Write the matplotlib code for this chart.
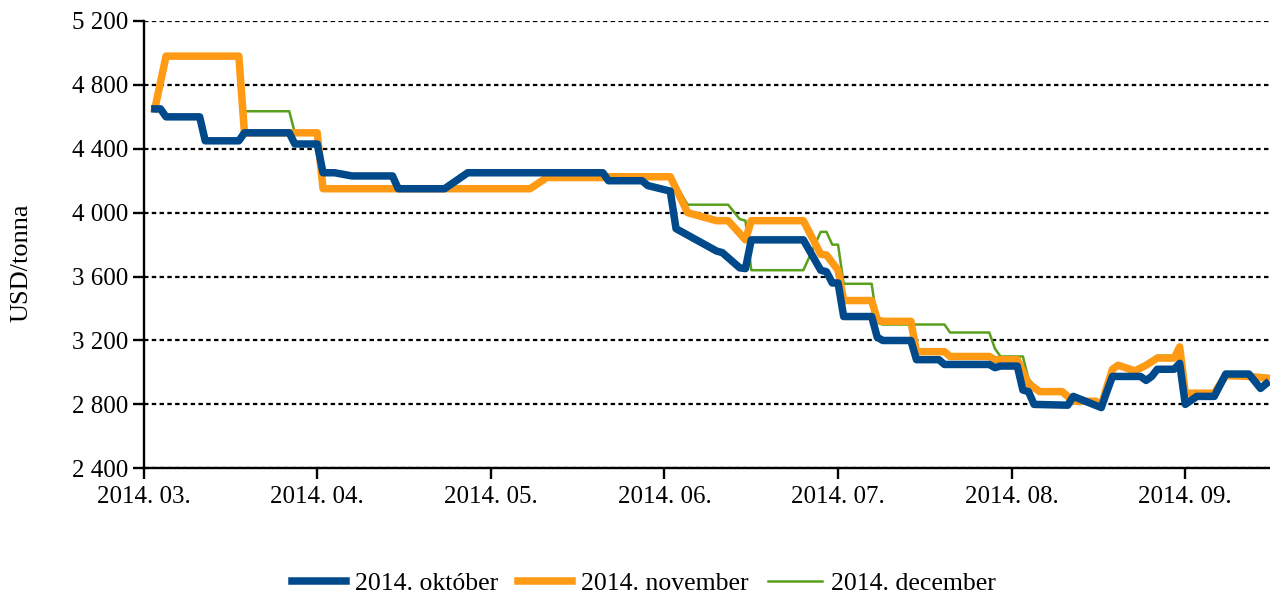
import matplotlib
matplotlib.use("Agg")
import matplotlib.pyplot as plt
import pandas as pd

plt.rcParams["font.family"] = ["Liberation Serif", "DejaVu Serif"]

# Futures price quotes (USD/tonna) for three delivery months
okt_dates = ["2014-03-03", "2014-03-04", "2014-03-05", "2014-03-11", "2014-03-12",
             "2014-03-18", "2014-03-19", "2014-03-27", "2014-03-28", "2014-04-01",
             "2014-04-02", "2014-04-04", "2014-04-07", "2014-04-14", "2014-04-15",
             "2014-04-23", "2014-04-27", "2014-05-21", "2014-05-22", "2014-05-28",
             "2014-05-29", "2014-06-02", "2014-06-03", "2014-06-10", "2014-06-11",
             "2014-06-14", "2014-06-15", "2014-06-16", "2014-06-25", "2014-06-28",
             "2014-06-29", "2014-06-30", "2014-07-01", "2014-07-02", "2014-07-07",
             "2014-07-08", "2014-07-09", "2014-07-14", "2014-07-15", "2014-07-19",
             "2014-07-20", "2014-07-28", "2014-07-29", "2014-07-30", "2014-08-02",
             "2014-08-03", "2014-08-04", "2014-08-05", "2014-08-11", "2014-08-12",
             "2014-08-17", "2014-08-18", "2014-08-19", "2014-08-24", "2014-08-25",
             "2014-08-26", "2014-08-27", "2014-08-30", "2014-08-31", "2014-09-01",
             "2014-09-03", "2014-09-06", "2014-09-08", "2014-09-12", "2014-09-14",
             "2014-09-15"]
okt_values = [4650, 4650, 4600, 4600, 4450,
              4450, 4500, 4500, 4430, 4430,
              4250, 4250, 4230, 4230, 4150,
              4150, 4250, 4250, 4200, 4200,
              4170, 4135, 3900, 3760, 3750,
              3655, 3650, 3830, 3830, 3640,
              3630, 3560, 3560, 3350, 3350,
              3220, 3200, 3200, 3080, 3080,
              3050, 3050, 3030, 3040, 3040,
              2890, 2880, 2800, 2795, 2850,
              2780, 2880, 2975, 2975, 2950,
              2975, 3020, 3020, 3057, 2800,
              2850, 2850, 2990, 2990, 2900,
              2930]

nov_dates = ["2014-03-03", "2014-03-05", "2014-03-18", "2014-03-19", "2014-04-01",
             "2014-04-02", "2014-05-08", "2014-05-11", "2014-05-21", "2014-05-22",
             "2014-06-02", "2014-06-05", "2014-06-10", "2014-06-12", "2014-06-15",
             "2014-06-16", "2014-06-25", "2014-06-28", "2014-06-29", "2014-07-01",
             "2014-07-02", "2014-07-07", "2014-07-08", "2014-07-09", "2014-07-14",
             "2014-07-15", "2014-07-20", "2014-07-21", "2014-07-28", "2014-07-29",
             "2014-08-02", "2014-08-04", "2014-08-06", "2014-08-10", "2014-08-12",
             "2014-08-16", "2014-08-17", "2014-08-18", "2014-08-19", "2014-08-20",
             "2014-08-23", "2014-08-25", "2014-08-27", "2014-08-30", "2014-08-31",
             "2014-09-01", "2014-09-06", "2014-09-08", "2014-09-12", "2014-09-15"]
nov_values = [4650, 4980, 4980, 4500, 4500,
              4150, 4150, 4220, 4220, 4225,
              4225, 4000, 3950, 3950, 3830,
              3950, 3950, 3740, 3735, 3640,
              3450, 3450, 3330, 3320, 3320,
              3130, 3130, 3100, 3100, 3080,
              3080, 2930, 2880, 2880, 2820,
              2820, 2790, 2910, 3020, 3045,
              3010, 3045, 3090, 3090, 3160,
              2870, 2870, 2980, 2975, 2965]

dec_dates = ["2014-03-03", "2014-03-05", "2014-03-18", "2014-03-19", "2014-03-27",
             "2014-03-28", "2014-04-01", "2014-04-02", "2014-05-08", "2014-05-11",
             "2014-05-21", "2014-05-22", "2014-06-02", "2014-06-03", "2014-06-05",
             "2014-06-12", "2014-06-14", "2014-06-15", "2014-06-16", "2014-06-25",
             "2014-06-28", "2014-06-29", "2014-06-30", "2014-07-01", "2014-07-02",
             "2014-07-07", "2014-07-08", "2014-07-09", "2014-07-20", "2014-07-21",
             "2014-07-28", "2014-07-29", "2014-07-30", "2014-08-03", "2014-08-04",
             "2014-08-05", "2014-08-06", "2014-08-10", "2014-08-12", "2014-08-16",
             "2014-08-17", "2014-08-18", "2014-08-19", "2014-08-20", "2014-08-23",
             "2014-08-25", "2014-08-27", "2014-08-30", "2014-08-31", "2014-09-01",
             "2014-09-06", "2014-09-08", "2014-09-12", "2014-09-15"]
dec_values = [4650, 4980, 4980, 4635, 4635,
              4500, 4500, 4150, 4150, 4220,
              4220, 4225, 4225, 4175, 4050,
              4050, 3960, 3950, 3640, 3640,
              3880, 3880, 3800, 3800, 3555,
              3555, 3310, 3300, 3300, 3250,
              3250, 3150, 3100, 3100, 2960,
              2920, 2880, 2880, 2820, 2820,
              2790, 2910, 3030, 3055, 3020,
              3050, 3105, 3105, 3160, 2870,
              2870, 2985, 2980, 2965]

series_labels = ["2014. október", "2014. november", "2014. december"]
month_labels = ["2014. 03.", "2014. 04.", "2014. 05.", "2014. 06.",
                "2014. 07.", "2014. 08.", "2014. 09."]
y_ticks = [2400, 2800, 3200, 3600, 4000, 4400, 4800, 5200]


def month_position(dates):
    """Each calendar month gets the same width on the axis."""
    d = pd.to_datetime(pd.Series(dates))
    return ((d.dt.year - 2014) * 12 + d.dt.month - 3
            + (d.dt.day - 1) / d.dt.days_in_month).to_numpy()


fig = plt.figure(figsize=(12.7, 5.98), dpi=100)
ax = fig.add_axes([0.1131, 0.2169, 0.8869, 0.748])

ax.plot(month_position(dec_dates), dec_values, color="#5aa01e", lw=1.8,
        zorder=3, label=series_labels[2], solid_joinstyle="round")
ax.plot(month_position(nov_dates), nov_values, color="#ff9a14", lw=5.4,
        zorder=4, label=series_labels[1], solid_joinstyle="round")
ax.plot(month_position(okt_dates), okt_values, color="#004a8c", lw=5.4,
        zorder=5, label=series_labels[0], solid_joinstyle="round")

ax.set_ylim(y_ticks[0], y_ticks[-1])
ax.set_xlim(0, 6.488)
ax.set_yticks(y_ticks)
ax.set_yticklabels([f"{v:,}".replace(",", " ") for v in y_ticks])
ax.set_xticks(range(len(month_labels)))
ax.set_xticklabels(month_labels)

for v in y_ticks:
    ax.axhline(v, color="black", lw=1.6, ls=(0, (2.0, 1.5)), zorder=1)

for side in ("top", "right"):
    ax.spines[side].set_visible(False)
for side in ("left", "bottom"):
    ax.spines[side].set_linewidth(1.7)
    ax.spines[side].set_zorder(6)
ax.tick_params(axis="both", direction="out", length=8, width=1.7,
               labelsize=18, colors="black")
ax.tick_params(axis="y", pad=3)
ax.tick_params(axis="x", pad=5)

fig.text(0.017, 0.56, "USD/tonna", rotation=90, ha="center", va="center",
         fontsize=19)

handles, labels = ax.get_legend_handles_labels()
order = [2, 1, 0]
fig.legend([handles[i] for i in order], [labels[i] for i in order],
           loc="center", bbox_to_anchor=(0.507, 0.024), ncol=3, frameon=False,
           fontsize=18.5, handlelength=2.1, columnspacing=0.75, handletextpad=0.35)

fig.savefig("out.png", dpi=100)
